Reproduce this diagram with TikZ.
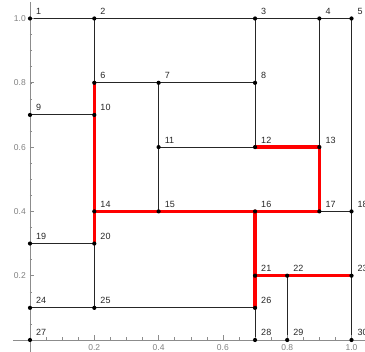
\documentclass[tikz,border=0pt]{standalone}
\usepackage{fontspec}
\setmainfont{Liberation Sans}

\begin{document}
\begin{tikzpicture}[x=321.5pt, y=321.5pt,
  edge/.style={black!85, line width=0.9pt},
  redpath/.style={red, line width=3.5pt, line cap=round},
  dot/.style={circle, fill=black, inner sep=0pt, minimum size=4.2pt},
  numlabel/.style={font=\fontsize{9}{9}\selectfont, text=black!85, inner sep=0pt, anchor=base west},
  axis/.style={black!45, line width=0.9pt},
  ticklabel/.style={font=\fontsize{8.5}{8.5}\selectfont, text=black!50, inner sep=0pt}]

\useasboundingbox (-30pt,-12pt) rectangle (335pt,340pt);

% Grid points
\foreach \n/\x/\y in {1/0/1, 2/0.2/1, 3/0.7/1, 4/0.9/1, 5/1/1,
    6/0.2/0.8, 7/0.4/0.8, 8/0.7/0.8, 9/0/0.7, 10/0.2/0.7,
    11/0.4/0.6, 12/0.7/0.6, 13/0.9/0.6,
    14/0.2/0.4, 15/0.4/0.4, 16/0.7/0.4, 17/0.9/0.4, 18/1/0.4,
    19/0/0.3, 20/0.2/0.3, 21/0.7/0.2, 22/0.8/0.2, 23/1/0.2,
    24/0/0.1, 25/0.2/0.1, 26/0.7/0.1,
    27/0/0, 28/0.7/0, 29/0.8/0, 30/1/0}
  \coordinate (p\n) at (\x,\y);

% Edges
\foreach \a/\b in {1/2, 2/3, 3/4, 4/5, 1/9, 9/19, 19/24, 24/27,
    5/18, 18/23, 23/30, 27/28, 28/29, 29/30,
    2/6, 6/7, 7/8, 3/8, 8/12, 4/13, 9/10, 7/11, 11/15, 11/12,
    17/18, 19/20, 20/25, 24/25, 25/26, 26/28, 22/29}
  \draw[edge] (p\a) -- (p\b);

% Axes
\draw[axis] (-0.053,0) -- (1.05,0);
\draw[axis] (0,-0.04) -- (0,1.052);
\foreach \i in {1,...,20} {
  \draw[axis, line width=0.5pt] (\i*0.05,0) -- ++(0,2.5pt);
  \draw[axis, line width=0.5pt] (0,\i*0.05) -- ++(2.5pt,0);
}
\foreach \t in {0.2,0.4,0.6,0.8,1.0} {
  \draw[axis, line width=0.6pt] (\t,0) -- ++(0,4.5pt);
  \draw[axis, line width=0.6pt] (0,\t) -- ++(4.5pt,0);
  \node[ticklabel, anchor=north] (xt\t) at ([yshift=-4pt]\t,0) {\t};
  \node[ticklabel, anchor=east] (yt\t) at ([xshift=-4pt]0,\t) {\t};
}

% Red path
\foreach \a/\b in {6/10, 10/14, 14/20, 14/15, 15/16, 16/17, 12/13, 13/17,
    16/21, 21/26, 21/22, 22/23}
  \draw[redpath] (p\a) -- (p\b);

% Dots and numbers
\foreach \n in {1,...,30} {
  \node[dot] (d\n) at (p\n) {};
  \node[numlabel] (l\n) at ([xshift=6pt, yshift=4pt]p\n) {\n};
}

\end{tikzpicture}
\end{document}
